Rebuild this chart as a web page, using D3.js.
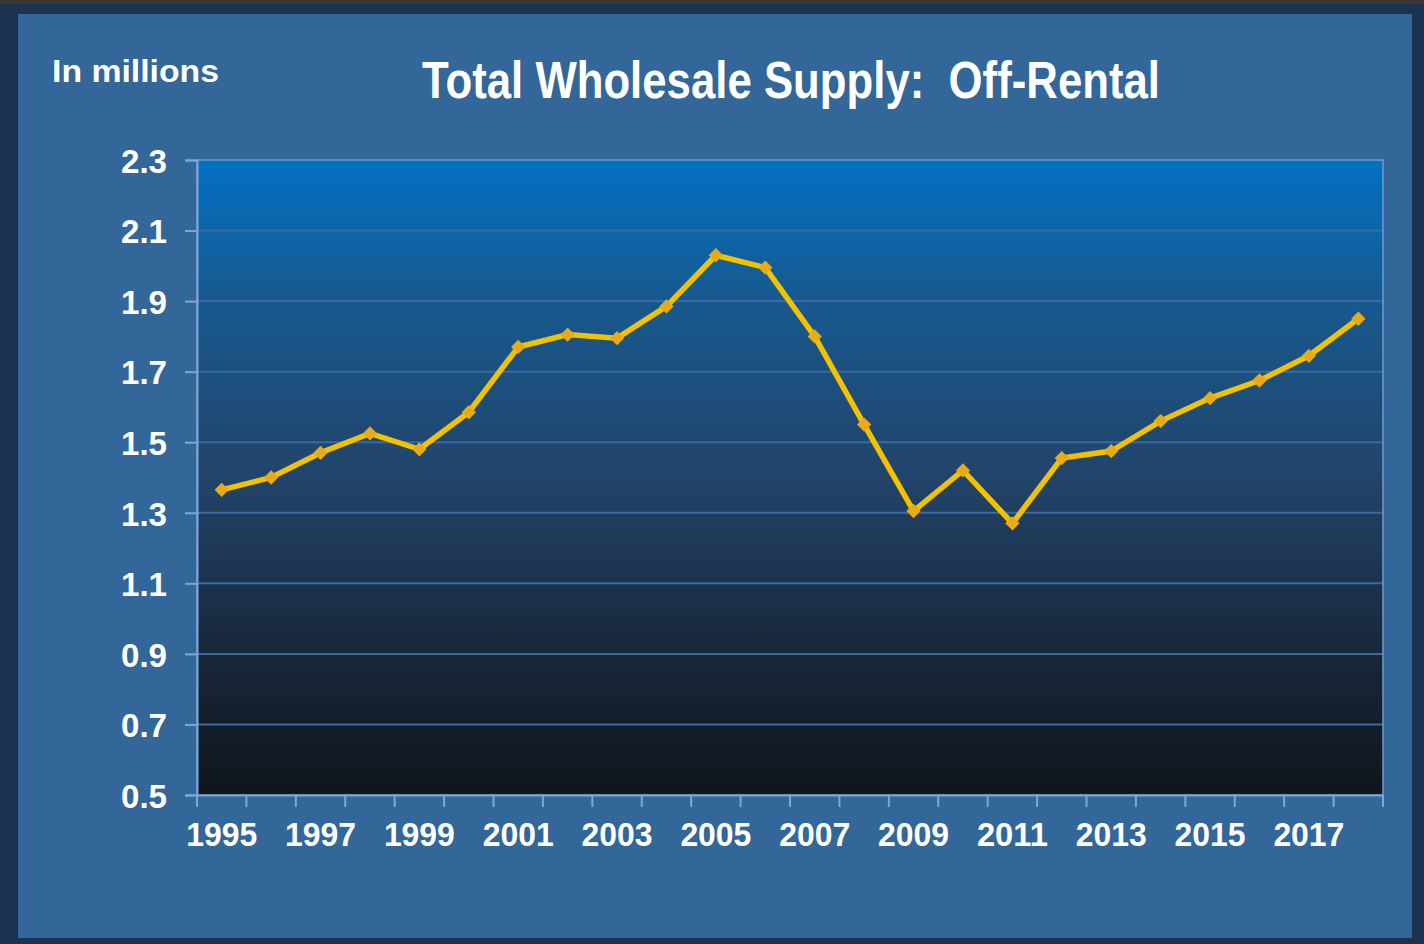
<!DOCTYPE html>
<html>
<head>
<meta charset="utf-8">
<script src="https://cdn.jsdelivr.net/npm/d3@7"></script>
<style>
  html, body { margin: 0; padding: 0; background: #1b3350; }
  svg { display: block; }
  text { white-space: pre; }
</style>
</head>
<body>
<svg id="chart" width="1424" height="944"></svg>
<script>
const years = [1995,1996,1997,1998,1999,2000,2001,2002,2003,2004,2005,2006,2007,2008,2009,2010,2011,2012,2013,2014,2015,2016,2017,2018];
const supply = [1.365,1.40,1.47,1.525,1.48,1.585,1.77,1.805,1.795,1.885,2.03,1.995,1.80,1.55,1.305,1.42,1.27,1.455,1.475,1.56,1.625,1.675,1.745,1.85];
const yTicks = [0.5,0.7,0.9,1.1,1.3,1.5,1.7,1.9,2.1,2.3];
const xLabelYears = [1995,1997,1999,2001,2003,2005,2007,2009,2011,2013,2015,2017];
const titleText = "Total Wholesale Supply:  Off-Rental";
const unitText = "In millions";

const svg = d3.select("#chart");
const W = 1424, H = 944;
const m = {left: 197, right: 1383, top: 160, bottom: 795};
const FONT = "'Liberation Sans', Arial, sans-serif";

// backdrop
svg.append("rect").attr("x",0).attr("y",0).attr("width",W).attr("height",H).attr("fill","#1b3350");
svg.append("rect").attr("x",0).attr("y",0).attr("width",W).attr("height",4).attr("fill","#3a3630");
svg.append("rect").attr("x",18).attr("y",14).attr("width",1394).attr("height",924).attr("fill","#336699");

const defs = svg.append("defs");
const grad = defs.append("linearGradient").attr("id","bg").attr("x1",0).attr("y1",0).attr("x2",0).attr("y2",1);
[[0,"#0271c3"],[0.22,"#17598f"],[0.5,"#22446a"],[0.78,"#182739"],[1,"#10151c"]].forEach(([o,c]) =>
  grad.append("stop").attr("offset",o).attr("stop-color",c));

const x = d3.scaleBand().domain(years).range([m.left, m.right]).padding(0);
const y = d3.scaleLinear().domain([0.5, 2.3]).range([m.bottom, m.top]);

svg.append("rect").attr("x",m.left).attr("y",m.top).attr("width",m.right-m.left).attr("height",m.bottom-m.top)
  .attr("fill","url(#bg)");

// gridlines
svg.append("g").selectAll("line").data(yTicks.slice(1,-1)).join("line")
  .attr("x1",m.left).attr("x2",m.right).attr("y1",d=>y(d)).attr("y2",d=>y(d))
  .attr("stroke","#3b6aa0").attr("stroke-width",2);

// plot frame
svg.append("rect").attr("x",m.left).attr("y",m.top).attr("width",m.right-m.left).attr("height",m.bottom-m.top)
  .attr("fill","none").attr("stroke","#6f9bcf").attr("stroke-width",1.5);

// y axis
const yAxis = d3.axisLeft(y).tickValues(yTicks).tickSize(12).tickPadding(16).tickFormat(d3.format(".1f"));
const gy = svg.append("g").attr("transform",`translate(${m.left},0)`).call(yAxis);
gy.select(".domain").attr("stroke","#7fa6d4").attr("stroke-width",2);
gy.selectAll(".tick line").attr("stroke","#7fa6d4").attr("stroke-width",2);
gy.selectAll(".tick text").attr("fill","#ffffff").attr("font-family",FONT)
  .attr("font-weight","bold").attr("font-size",34).attr("dy","0.36em").attr("x",-30)
  .attr("textLength",46).attr("lengthAdjust","spacingAndGlyphs");

// x axis
const xAxis = d3.axisBottom(x).tickSize(0).tickPadding(27)
  .tickFormat(d => xLabelYears.includes(d) ? String(d) : "");
const gx = svg.append("g").attr("transform",`translate(0,${m.bottom})`).call(xAxis);
gx.select(".domain").attr("stroke","#7fa6d4").attr("stroke-width",2);
gx.selectAll(".tick text").attr("fill","#ffffff").attr("font-family",FONT)
  .attr("font-weight","bold").attr("font-size",34).attr("dy","0.71em")
  .attr("textLength",d => xLabelYears.includes(d) ? 71 : null).attr("lengthAdjust","spacingAndGlyphs");
// boundary tick marks between categories
const bounds = years.map(d => x(d)).concat([x(years[years.length-1]) + x.bandwidth()]);
svg.append("g").selectAll("line").data(bounds).join("line")
  .attr("x1",d=>d).attr("x2",d=>d).attr("y1",m.bottom).attr("y2",m.bottom+12)
  .attr("stroke","#7fa6d4").attr("stroke-width",2);

// line
const cx = d => x(d) + x.bandwidth()/2;
const line = d3.line().x((d,i)=>cx(years[i])).y(d=>y(d));
svg.append("path").datum(supply).attr("d",line).attr("fill","none")
  .attr("stroke","#f2c200").attr("stroke-width",5.5).attr("stroke-linejoin","miter");

// diamond markers
svg.append("g").selectAll("path").data(supply).join("path")
  .attr("d", d3.symbol().type(d3.symbolDiamond2).size(130))
  .attr("transform",(d,i)=>`translate(${cx(years[i])},${y(d)})`)
  .attr("fill","#e9aa18");

// titles
svg.append("text").attr("x",791).attr("y",98).attr("text-anchor","middle")
  .attr("font-family","'Liberation Sans Narrow', 'Liberation Sans', Arial, sans-serif")
  .attr("font-weight","bold").attr("font-size",52).attr("fill","#ffffff")
  .attr("textLength",738).attr("lengthAdjust","spacingAndGlyphs")
  .text(titleText);

svg.append("text").attr("x",52).attr("y",82)
  .attr("font-family",FONT)
  .attr("font-weight","bold").attr("font-size",32).attr("fill","#ffffff")
  .attr("textLength",167).attr("lengthAdjust","spacingAndGlyphs")
  .text(unitText);
</script>
</body>
</html>
